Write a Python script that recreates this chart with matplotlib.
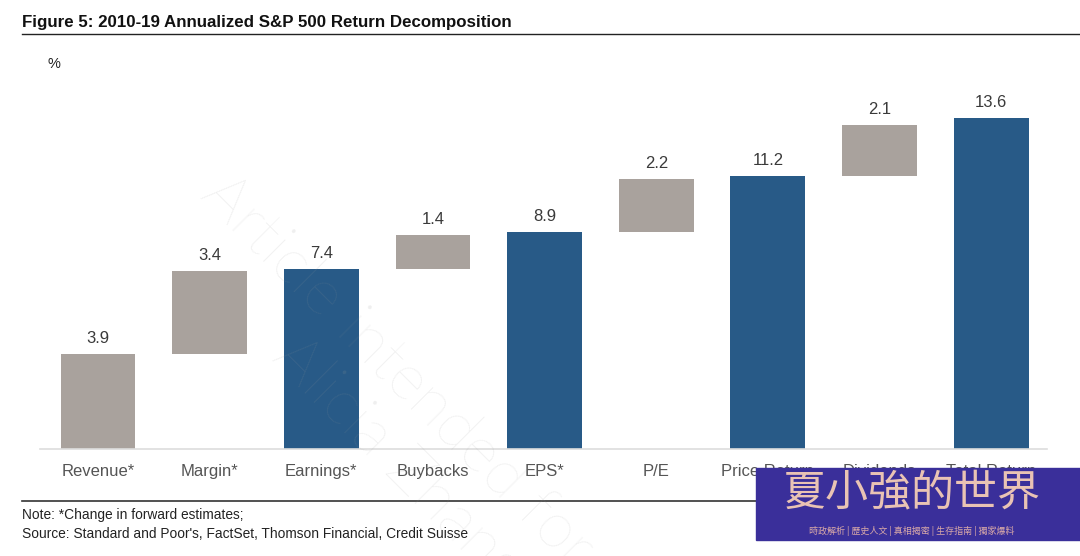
import matplotlib
matplotlib.use("Agg")
from matplotlib import pyplot as plt
from matplotlib.lines import Line2D
from matplotlib.patches import Rectangle

categories = ["Revenue*", "Margin*", "Earnings*", "Buybacks", "EPS*",
              "P/E", "Price Return", "Dividends", "Total Return"]
values = [3.9, 3.4, 7.4, 1.4, 8.9, 2.2, 11.2, 2.1, 13.6]
is_total = [False, False, True, False, True, False, True, False, True]

title = "Figure 5: 2010-19 Annualized S&P 500 Return Decomposition"
note = "Note: *Change in forward estimates;"
source = "Source: Standard and Poor's, FactSet, Thomson Financial, Credit Suisse"

grey = "#a9a29d"
blue = "#285a87"

plt.rcParams["font.family"] = ["Liberation Sans", "DejaVu Sans"]

W, H = 1080, 556
fig = plt.figure(figsize=(W / 100, H / 100), dpi=100)

# waterfall: grey steps float on the running level, blue bars are totals
bottoms = []
level = 0.0
for v, tot in zip(values, is_total):
    if tot:
        bottoms.append(0.0)
        level = v
    else:
        bottoms.append(level)
        level = level + v

ax = fig.add_axes([40 / W, 107 / H, 1007 / W, 365 / H])
x = list(range(len(categories)))
colors = [blue if t else grey for t in is_total]
bars = ax.bar(x, values, bottom=bottoms, width=0.67, color=colors)
for b, v in zip(bars, values):
    ax.annotate(f"{v:.1f}", (b.get_x() + b.get_width() / 2, b.get_y() + b.get_height()),
                xytext=(0, 6), textcoords="offset points", ha="center", va="bottom",
                fontsize=12, color="#3a3a3a")

ax.set_xlim(-0.52, 8.5)
ax.set_ylim(0, 15)
ax.set_xticks(x)
ax.set_xticklabels(categories, fontsize=12, color="#555555")
ax.tick_params(axis="x", length=0, pad=11)
ax.set_yticks([])
for s in ["top", "left", "right"]:
    ax.spines[s].set_visible(False)
ax.spines["bottom"].set_color("#dddddd")
ax.spines["bottom"].set_linewidth(1.2)

# header and footer
fig.text(22 / W, 1 - 22 / H, title, fontsize=12.2, fontweight="bold", va="center", color="#111111")
fig.add_artist(Line2D([22 / W, 1.0], [1 - 34 / H] * 2, color="#222222", lw=1.0))
fig.text(47 / W, 1 - 64 / H, "%", fontsize=10.5, va="center", color="#222222")
fig.add_artist(Line2D([22 / W, 1.0], [1 - 501 / H] * 2, color="#333333", lw=1.2))
fig.text(22 / W, 1 - 515 / H, note, fontsize=9.9, va="center", color="#222222")
fig.text(22 / W, 1 - 534 / H, source, fontsize=9.9, va="center", color="#222222")

# faint diagonal watermark
wm = dict(fontsize=46, color="#9a9a9a", alpha=0.16, rotation=-45,
          rotation_mode="anchor", ha="left", va="baseline",
          family=["Lato", "Liberation Sans"], fontweight="light")
fig.text(198 / W, 1 - 198 / H, "Article intended for", **wm)
fig.text(270 / W, 1 - 360 / H, "Alicia Zhang", **wm)

# logo overlay
fig.add_artist(Rectangle((756 / W, 1 - 540 / H), 324 / W, 72 / H,
                         transform=fig.transFigure, color="#3a2f9a", zorder=5))
cjk = ["Noto Sans CJK TC", "DejaVu Sans"]
fig.text(912 / W, 1 - 493 / H, "夏小強的世界", family=cjk, fontsize=31,
         color="#e9c3b4", ha="center", va="center", zorder=6)
fig.text(912 / W, 1 - 531 / H, "時政解析 | 歷史人文 | 真相揭密 | 生存指南 | 獨家爆料",
         family=cjk, fontsize=6.5, color="#d9a9a8", ha="center", va="center", zorder=6)

fig.savefig("out.png", dpi=100, facecolor="white")
